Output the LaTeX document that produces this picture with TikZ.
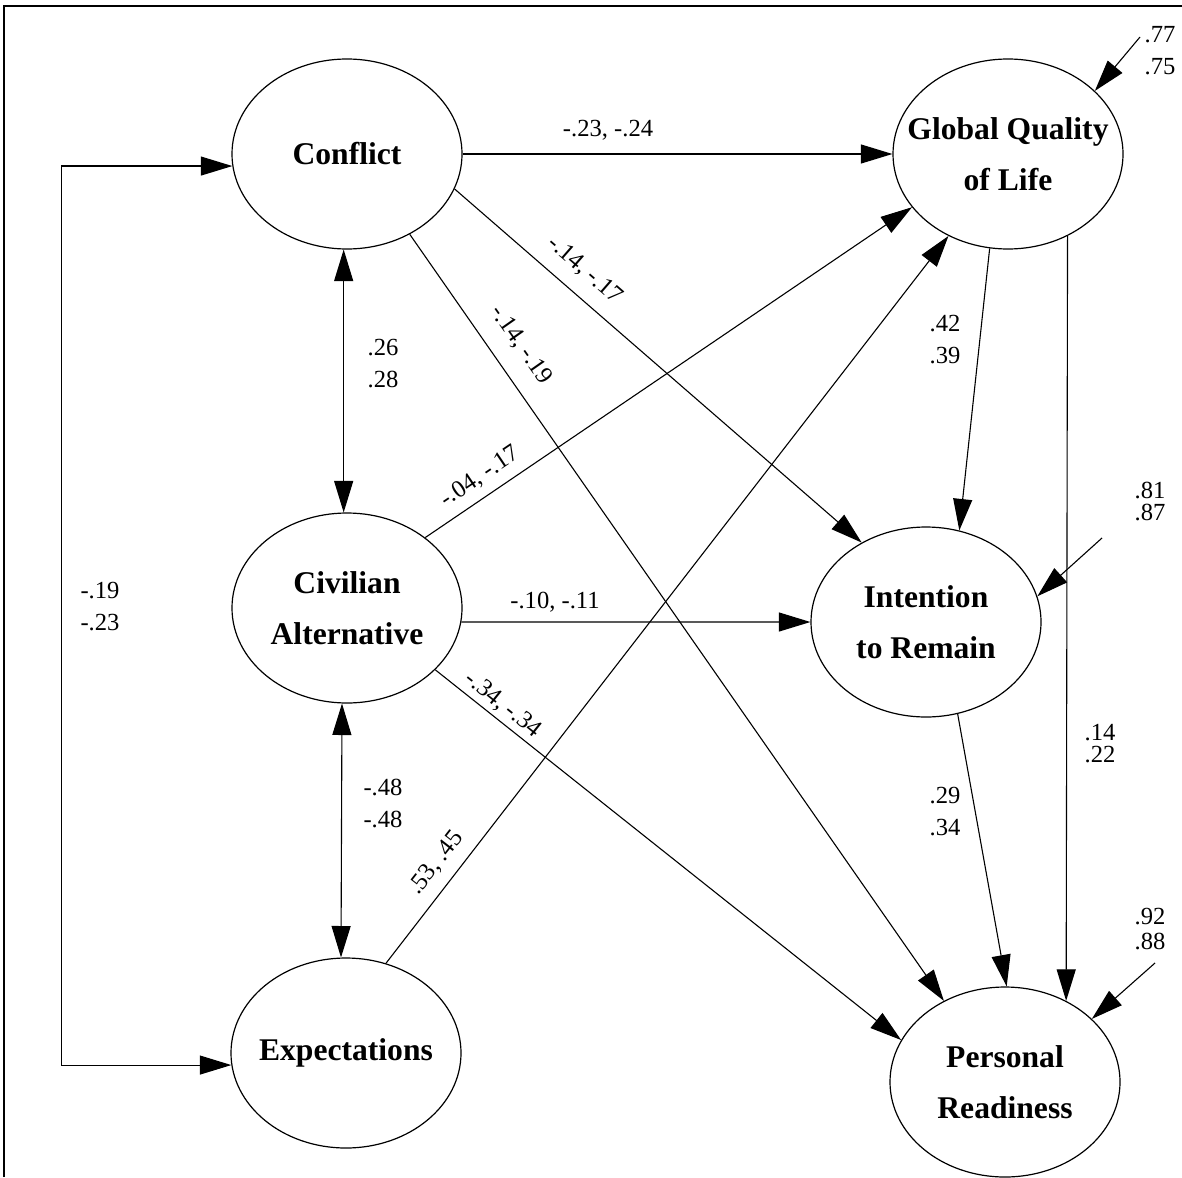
\documentclass[tikz,border=0pt]{standalone}
\usepackage{fontspec}
\setmainfont{Liberation Serif}
\usetikzlibrary{arrows.meta,shapes.geometric}
\begin{document}
\begin{tikzpicture}[x=0.5pt,y=-0.5pt,
  lat/.style={ellipse,draw,line width=0.6pt,minimum width=115pt,minimum height=95pt,inner sep=0pt},
  lattext/.style={inner sep=0pt,align=center,font=\bfseries\fontsize{15.8}{25.5}\selectfont},
  arr/.style={line width=0.55pt,-{Triangle[length=15.75pt,width=9.5pt]}},
  biarr/.style={line width=0.55pt,{Triangle[length=15.75pt,width=9.5pt]}-{Triangle[length=15.75pt,width=9.5pt]}},
  num/.style={font=\fontsize{12.3}{16}\selectfont,inner sep=0pt,align=center},
  tightnum/.style={font=\fontsize{12.3}{11}\selectfont,inner sep=0pt,align=center},
  midnum/.style={font=\fontsize{12.3}{12.5}\selectfont,inner sep=0pt,align=center}
]
\useasboundingbox (0,0) rectangle (1182,1177);
% frame
\draw[line width=0.8pt] (4,1177) -- (4,6) -- (1182,6);

% latent variables
\node[lat,label={[lattext]center:Conflict}] (conf) at (347,154) {};
\node[lat,label={[lattext]center:Global Quality\\of Life}] (gql) at (1008,154) {};
\node[lat,label={[lattext]center:Civilian\\Alternative}] (civ) at (347,608) {};
\node[lat,label={[lattext]center:Intention\\to Remain}] (int) at (926,622) {};
\node[lat,label={[lattext]center:Expectations}] (exp) at (346,1053) {};
\node[lat,label={[lattext]center:Personal\\Readiness}] (pr) at (1005,1082) {};

% paths
\draw[arr] (conf.east) -- (gql.west);
\draw[arr] (conf.-18.4) -- (int.129.4);
\draw[arr] (conf.-52.3) -- (pr.127);
\draw[arr] (civ.42.3) -- (gql.209.9);
\draw[arr] (civ.-7) -- (int.west);
\draw[arr] (civ.-35.9) -- (pr.158.6);
\draw[arr] (exp.66.8) -- (gql.234.3);
\draw[arr] (gql.259.3) -- (int.70.8);
\draw[arr] (gql.-54.5) -- (pr.53.8);
\draw[arr] (int.-71.6) -- (pr.89.4);

% correlations
\draw[biarr] (conf.-92.8) -- (civ.92.9);
\draw[biarr] (civ.-93) -- (exp.93);
\draw[biarr] (conf.186) -- ++(-171,0) |- (exp.186);

% residuals
\coordinate (e1) at (1140,37);
\coordinate (e2) at (1102,538);
\coordinate (e3) at (1155,963);
\draw[arr] (e1) -- (gql.36.1);
\draw[arr] (e2) -- (int.13.2);
\draw[arr] (e3) -- (pr.36.1);

% labels
\node[num] (l1) at (608,130) {-.23, -.24};
\node[num,rotate=-41] (l2) at (585,270) {-.14, -.17};
\node[num,rotate=-55] (l3) at (521,345) {-.14, -.19};
\node[num,rotate=34] (l4) at (480,477) {-.04, -.17};
\node[num] (l5) at (555,602) {-.10, -.11};
\node[num,rotate=-38.6] (l6) at (503,705) {-.34, -.34};
\node[num,rotate=52] (l7) at (436,863) {.53, .45};

\node[num] (l8) at (383,364) {.26\\.28};
\node[num] (l9) at (100,607) {-.19\\-.23};
\node[num] (l10) at (383,803) {-.48\\-.48};
\node[num] (l11) at (945,340) {.42\\.39};
\node[num] (l12) at (945,812) {.29\\.34};
\node[num] (l13) at (1160,51) {.77\\.75};
\node[tightnum] (l14) at (1150,501) {.81\\.87};
\node[tightnum] (l15) at (1100,744) {.14\\.22};
\node[midnum] (l16) at (1150,929) {.92\\.88};
\end{tikzpicture}
\end{document}
